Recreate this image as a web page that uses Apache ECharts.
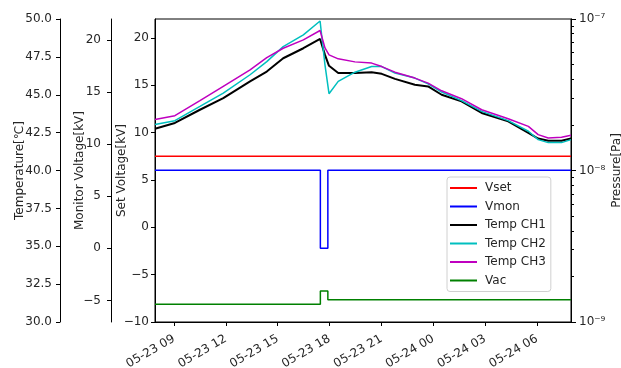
<!DOCTYPE html>
<html>
<head>
    <meta charset="utf-8" />
    <title>Voltage / Temperature / Pressure</title>
    <script src="https://cdn.jsdelivr.net/npm/echarts@6/dist/echarts.min.js"></script>
    <style>
        html, body { margin: 0; padding: 0; background: #fff; }
    </style>
</head>
<body>
<div id="main" style="width: 621px;height:368px;"></div>
<script type="text/javascript">
    // time range and tick labels of the x axis
    var xMin = '2019-05-23 07:54';
    var xMax = '2019-05-24 07:58';
    var tickTimes = ['2019-05-23 09:00', '2019-05-23 12:00', '2019-05-23 15:00', '2019-05-23 18:00',
        '2019-05-23 21:00', '2019-05-24 00:00', '2019-05-24 03:00', '2019-05-24 06:00'];

    // temperature readings
    var tempTimes = ['2019-05-23 07:54', '2019-05-23 09:03', '2019-05-23 10:30', '2019-05-23 11:51',
        '2019-05-23 13:24', '2019-05-23 14:22', '2019-05-23 15:19', '2019-05-23 16:29',
        '2019-05-23 17:27', '2019-05-23 17:44', '2019-05-23 17:58', '2019-05-23 18:30',
        '2019-05-23 19:28', '2019-05-23 20:26', '2019-05-23 21:01', '2019-05-23 21:47',
        '2019-05-23 22:56', '2019-05-23 23:42', '2019-05-24 00:29', '2019-05-24 01:38',
        '2019-05-24 02:48', '2019-05-24 04:20', '2019-05-24 05:30', '2019-05-24 06:04',
        '2019-05-24 06:39', '2019-05-24 07:25', '2019-05-24 07:58'];
    var tempCh1 = [42.76, 43.14, 44.01, 44.78, 45.88, 46.53, 47.41, 48.07, 48.68, 47.63, 46.91, 46.43,
        46.43, 46.48, 46.38, 46.05, 45.66, 45.55, 45.00, 44.56, 43.80, 43.24, 42.48, 42.11, 41.97, 41.97, 42.11];
    var tempCh2 = [43.03, 43.29, 44.23, 45.11, 46.32, 47.19, 48.18, 48.95, 49.87, 46.97, 45.07, 45.88,
        46.49, 46.86, 46.86, 46.43, 46.10, 45.72, 45.18, 44.61, 43.90, 43.29, 42.59, 42.04, 41.84, 41.84, 42.04];
    var tempCh3 = [43.36, 43.62, 44.61, 45.55, 46.64, 47.45, 48.07, 48.62, 49.24, 48.09, 47.63, 47.37,
        47.17, 47.09, 46.86, 46.49, 46.10, 45.77, 45.26, 44.74, 44.01, 43.42, 42.91, 42.37, 42.15, 42.19, 42.32];

    // voltage and vacuum (step changes)
    var stepTimes = ['2019-05-23 07:54', '2019-05-23 17:28', '2019-05-23 17:28', '2019-05-23 17:54',
        '2019-05-23 17:54', '2019-05-24 07:58'];
    var vset = [7.5, 7.5, 7.5, 7.5, 7.5, 7.5];
    var vmon = [7.5, 7.5, 0, 0, 7.5, 7.5];
    var vac = [1.31e-9, 1.31e-9, 1.6e-9, 1.6e-9, 1.4e-9, 1.4e-9];

    var setTicks = [-10, -5, 0, 5, 10, 15, 20];
    var monTicks = [-5, 0, 5, 10, 15, 20];
    var pressMajor = [1e-9, 1e-8, 1e-7];
    var pressMinor = [2e-9, 3e-9, 4e-9, 5e-9, 6e-9, 7e-9, 8e-9, 9e-9,
        2e-8, 3e-8, 4e-8, 5e-8, 6e-8, 7e-8, 8e-8, 9e-8];

    // 'YYYY-MM-DD HH:mm' -> ms (local time)
    function ts(s) { return new Date(s.replace(' ', 'T') + ':00').getTime(); }
    function zip(xs, ys) {
        var out = [];
        for (var i = 0; i < xs.length; i++) out.push([ts(xs[i]), ys[i]]);
        return out;
    }
    function pad(n) { return n < 10 ? '0' + n : '' + n; }
    function minus(v) { return v < 0 ? '\u2212' + (-v) : '' + v; }
    var sup = { '-': '\u207b', '7': '\u2077', '8': '\u2078', '9': '\u2079' };

    var font = 'DejaVu Sans';
    var txt = '#262626';
    var lbl = { color: txt, fontSize: 12, fontFamily: font };
    var nameStyle = { color: txt, fontSize: 12, fontFamily: font };
    var line = { show: true, onZero: false, lineStyle: { color: '#000', width: 1 } };
    var tick = { show: true, length: 4, lineStyle: { color: '#000', width: 1 } };

    var myChart = echarts.init(document.getElementById('main'), null, { renderer: 'canvas' });
    var option = {
        animation: false,
        backgroundColor: '#fff',
        grid: {
            left: 155, right: 50, top: 19, bottom: 46,
            containLabel: false, outerBoundsMode: 'none',
            show: true, borderColor: '#000', borderWidth: 1, backgroundColor: 'transparent'
        },
        legend: {
            orient: 'vertical',
            left: 447, top: 177,
            padding: [4, 5, 4, 3],
            itemWidth: 27, itemHeight: 2, itemGap: 4.5,
            backgroundColor: '#fff', borderColor: '#d0d0d0', borderWidth: 1, borderRadius: 3,
            textStyle: { color: txt, fontSize: 12, fontFamily: font, lineHeight: 14, padding: [0, 0, 0, 3] },
            data: [
                { name: 'Vset', icon: 'rect' },
                { name: 'Vmon', icon: 'rect' },
                { name: 'Temp CH1', icon: 'rect' },
                { name: 'Temp CH2', icon: 'rect' },
                { name: 'Temp CH3', icon: 'rect' },
                { name: 'Vac', icon: 'rect' }
            ]
        },
        xAxis: {
            type: 'value',
            min: ts(xMin), max: ts(xMax),
            axisLine: line,
            axisTick: { show: true, length: 4, lineStyle: { color: '#000' }, customValues: tickTimes.map(ts) },
            splitLine: { show: false },
            axisLabel: {
                color: txt, fontSize: 12, fontFamily: font, rotate: 30, margin: 16,
                customValues: tickTimes.map(ts),
                formatter: function (v) {
                    var d = new Date(v);
                    return pad(d.getMonth() + 1) + '-' + pad(d.getDate()) + ' ' + pad(d.getHours());
                }
            }
        },
        yAxis: [
            {
                type: 'value', position: 'left', offset: 0,
                min: -10, max: 22,
                name: 'Set Voltage[kV]', nameLocation: 'middle', nameGap: 27, nameMoveOverlap: false,
                nameTextStyle: nameStyle,
                axisLine: line,
                axisTick: Object.assign({ customValues: setTicks }, tick),
                axisLabel: Object.assign({ customValues: setTicks, margin: 6, formatter: minus }, lbl),
                splitLine: { show: false }
            },
            {
                type: 'value', position: 'left', offset: 44,
                min: -7.07, max: 22,
                name: 'Monitor Voltage[kV]', nameLocation: 'middle', nameGap: 25, nameMoveOverlap: false,
                nameTextStyle: nameStyle,
                axisLine: line,
                axisTick: Object.assign({ customValues: monTicks }, tick),
                axisLabel: Object.assign({ customValues: monTicks, margin: 10, formatter: minus }, lbl),
                splitLine: { show: false }
            },
            {
                type: 'value', position: 'left', offset: 95,
                min: 30, max: 50, interval: 2.5,
                name: 'Temperature[\u2103]', nameLocation: 'middle', nameGap: 34, nameMoveOverlap: false,
                nameTextStyle: nameStyle,
                axisLine: line,
                axisTick: tick,
                axisLabel: Object.assign({ margin: 8, formatter: function (v) { return v.toFixed(1); } }, lbl),
                splitLine: { show: false }
            },
            {
                type: 'log', logBase: 10, position: 'right', offset: 0,
                min: 1e-9, max: 1e-7,
                name: 'Pressure[Pa]', nameLocation: 'middle', nameGap: 40, nameMoveOverlap: false,
                nameTextStyle: nameStyle,
                axisLine: line,
                axisTick: { show: true, length: 5, lineStyle: { color: '#000', width: 1 }, customValues: pressMajor },
                axisLabel: Object.assign({
                    margin: 8, customValues: pressMajor,
                    formatter: function (v) {
                        var e = Math.round(Math.log(v) / Math.LN10);
                        var s = String(e).split('').map(function (c) { return sup[c]; }).join('');
                        return '10' + s;
                    }
                }, lbl),
                splitLine: { show: false }
            },
            {
                // minor ticks of the pressure axis
                type: 'log', logBase: 10, position: 'right', offset: 0,
                min: 1e-9, max: 1e-7,
                axisLine: line,
                axisTick: { show: true, length: 3, lineStyle: { color: '#000', width: 1 }, customValues: pressMinor },
                axisLabel: { show: false },
                splitLine: { show: false }
            }
        ],
        series: [
            {
                name: 'Vset', type: 'line', yAxisIndex: 0, showSymbol: false, symbol: 'none',
                color: '#ff0000', lineStyle: { width: 1.5 },
                data: zip(stepTimes, vset)
            },
            {
                name: 'Vmon', type: 'line', yAxisIndex: 1, showSymbol: false, symbol: 'none',
                color: '#0000ff', lineStyle: { width: 1.5 },
                data: zip(stepTimes, vmon)
            },
            {
                name: 'Temp CH1', type: 'line', yAxisIndex: 2, showSymbol: false, symbol: 'none',
                color: '#000000', lineStyle: { width: 2 },
                data: zip(tempTimes, tempCh1)
            },
            {
                name: 'Temp CH2', type: 'line', yAxisIndex: 2, showSymbol: false, symbol: 'none',
                color: '#00bfbf', lineStyle: { width: 1.5 },
                data: zip(tempTimes, tempCh2)
            },
            {
                name: 'Temp CH3', type: 'line', yAxisIndex: 2, showSymbol: false, symbol: 'none',
                color: '#bf00bf', lineStyle: { width: 1.5 },
                data: zip(tempTimes, tempCh3)
            },
            {
                name: 'Vac', type: 'line', yAxisIndex: 3, showSymbol: false, symbol: 'none',
                color: '#008000', lineStyle: { width: 1.5 },
                data: zip(stepTimes, vac)
            }
        ]
    };
    myChart.setOption(option);
</script>
</body>
</html>
